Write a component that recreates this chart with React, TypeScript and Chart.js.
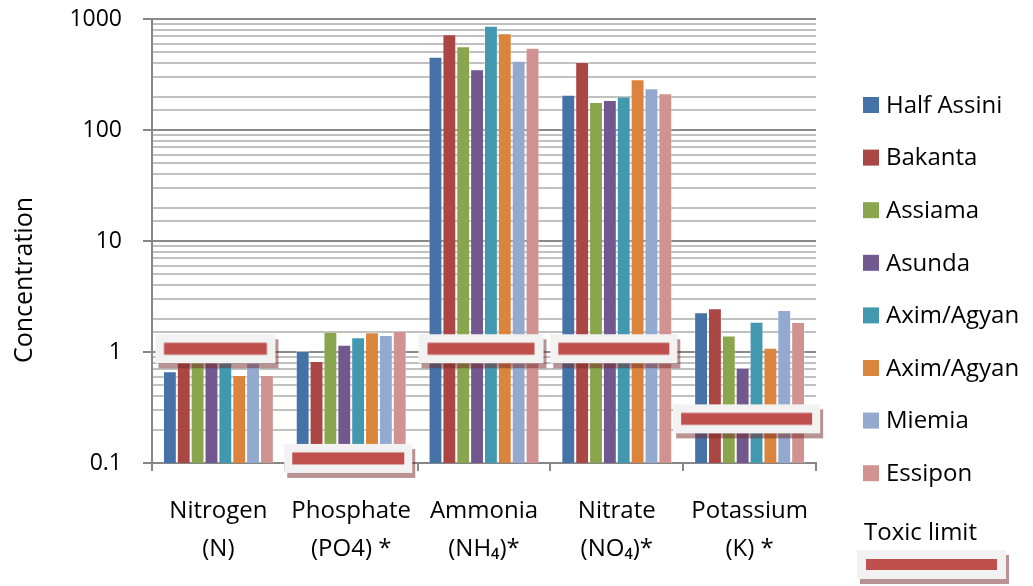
import React, { useEffect, useRef } from "react";
import { Chart, registerables } from "chart.js";
Chart.register(...registerables);

const categories: string[][] = [
  ["Nitrogen", "(N)"],
  ["Phosphate", "(PO4) *"],
  ["Ammonia", "(NH₄)*"],
  ["Nitrate", "(NO₄)*"],
  ["Potassium", "(K) *"],
];
const seriesNames = ["Half Assini", "Bakanta", "Assiama", "Asunda", "Axim/Agyan", "Axim/Agyan", "Miemia", "Essipon"];
const halfAssini = [0.67, 1.02, 457, 208, 2.28];
const bakanta = [0.85, 0.83, 728, 410, 2.48];
const assiama = [0.85, 1.52, 568, 179, 1.41];
const asunda = [0.85, 1.16, 352, 186, 0.72];
const aximAgyan1 = [0.85, 1.36, 870, 200, 1.87];
const aximAgyan2 = [0.62, 1.51, 743, 286, 1.09];
const miemia = [0.85, 1.42, 421, 238, 2.39];
const essipon = [0.62, 1.55, 551, 214, 1.86];
const toxicLimit = [1.07, 0.11, 1.07, 1.07, 0.25];
const toxicLabel = "Toxic limit";
const yTitle = "Concentration";
const seriesValues = [halfAssini, bakanta, assiama, asunda, aximAgyan1, aximAgyan2, miemia, essipon];
const seriesColors = ["#4572A7", "#AA4643", "#89A54E", "#71588F", "#4198AF", "#DB843D", "#93A9CF", "#D19392"];
const yMin = 0.1;
const yMax = 1000;

// marker box styling (box width, inner bar width) per category marker
const markerBoxW = [120, 128, 125, 127, 147];
const markerBarW = [103, 112, 107, 111, 131];

const FONT = "'Open Sans', 'Noto Sans', sans-serif";

function drawMarker(g: CanvasRenderingContext2D, x: number, y: number, w: number, h: number, rw: number, rh: number) {
  g.fillStyle = "rgba(115,40,40,0.5)";
  g.fillRect(x + 3, y + 5, w, h);
  g.fillStyle = "#f2f2f2";
  g.fillRect(x, y, w, h);
  g.fillStyle = "#C0504D";
  g.fillRect(x + (w - rw) / 2, y + (h - rh) / 2, rw, rh);
}

function makeMarkerCanvas(w: number, rw: number): HTMLCanvasElement {
  const h = 29, rh = 12;
  const pad = 10, shiftX = -3;
  const c = document.createElement("canvas");
  c.width = w + 2 * pad;
  c.height = h + 2 * pad;
  const g = c.getContext("2d")!;
  drawMarker(g, pad + shiftX, pad, w, h, rw, rh);
  return c;
}

const legendPlugin = {
  id: "customLegend",
  afterDraw(chart: any) {
    const ctx = chart.ctx as CanvasRenderingContext2D;
    ctx.save();
    ctx.font = `24px ${FONT}`;
    ctx.textBaseline = "middle";
    ctx.textAlign = "left";
    const startY = 105;
    const step = 52.6;
    for (let i = 0; i < seriesNames.length; i++) {
      const y = startY + i * step;
      ctx.fillStyle = seriesColors[i];
      ctx.fillRect(863, y - 8, 16, 16);
      ctx.fillStyle = "#000";
      ctx.fillText(seriesNames[i], 886, y + 1);
    }
    ctx.fillStyle = "#000";
    ctx.fillText(toxicLabel, 864, 533);
    drawMarker(ctx, 857, 550, 149, 29, 131, 11);
    // y axis title
    ctx.save();
    ctx.translate(25, 280);
    ctx.rotate(-Math.PI / 2);
    ctx.textAlign = "center";
    ctx.font = `25px ${FONT}`;
    ctx.fillStyle = "#000";
    ctx.fillText(yTitle, 0, 0);
    ctx.restore();
    ctx.restore();
  },
};

const isDecade = (v: number) => {
  const l = Math.log10(v);
  return Math.abs(l - Math.round(l)) < 1e-6;
};

export default function App() {
  const ref = useRef<HTMLCanvasElement>(null);
  useEffect(() => {
    if (!ref.current) return;
    const markers = markerBoxW.map((w, i) => makeMarkerCanvas(w, markerBarW[i]));
    const datasets: any[] = seriesValues.map((vals, i) => ({
      type: "bar",
      label: seriesNames[i],
      data: vals,
      backgroundColor: seriesColors[i],
      borderColor: "rgba(255,255,255,0.35)",
      borderWidth: 1,
      categoryPercentage: 0.835,
      barPercentage: 1,
      order: 2,
    }));
    datasets.push({
      type: "line",
      label: toxicLabel,
      data: toxicLimit,
      showLine: false,
      pointStyle: markers,
      pointRadius: 5,
      pointHoverRadius: 5,
      clip: false,
      order: 0,
    });
    const chart = new Chart(ref.current, {
      type: "bar",
      data: { labels: categories, datasets },
      options: {
        animation: false,
        responsive: true,
        maintainAspectRatio: false,
        layout: { padding: { left: 0, top: 19, right: 217, bottom: 0 } },
        plugins: { legend: { display: false }, tooltip: { enabled: false } },
        scales: {
          x: {
            type: "category",
            offset: true,
            grid: {
              offset: true,
              drawOnChartArea: false,
              drawTicks: true,
              tickLength: 8,
              color: "#868686",
              lineWidth: 2,
            },
            border: { display: true, color: "#868686", width: 2 },
            ticks: {
              color: "#000",
              font: { family: FONT, size: 24, lineHeight: 1.55 },
              padding: 22,
              maxRotation: 0,
              autoSkip: false,
            },
            afterFit(scale: any) {
              scale.height = 586 - 463;
              scale.paddingLeft = 0;
              scale.paddingRight = 0;
            },
          },
          y: {
            type: "logarithmic",
            min: yMin,
            max: yMax,
            grid: {
              color: (c: any) => (isDecade(c.tick ? c.tick.value : 1) ? "#8a8a8a" : "#c0c0c0"),
              tickColor: (c: any) => (isDecade(c.tick ? c.tick.value : 1) ? "#868686" : "rgba(0,0,0,0)"),
              lineWidth: 2,
              tickLength: 9,
            },
            border: { display: true, color: "#868686", width: 2 },
            ticks: {
              color: "#000",
              font: { family: FONT, size: 23 },
              padding: 21,
              autoSkip: false,
              callback: (value: any) => {
                const v = Number(value);
                if (isDecade(v)) return v < 1 ? v.toFixed(1) : String(Math.round(v));
                return "";
              },
            },
            title: { display: false },
            afterFit(scale: any) {
              scale.width = 152;
              scale.paddingTop = 0;
              scale.paddingBottom = 0;
            },
          },
        },
      },
      plugins: [legendPlugin],
    } as any);
    return () => chart.destroy();
  }, []);
  return (
    <div style={{ position: "fixed", left: 0, top: 0, width: 1033, height: 586, background: "#fff" }}>
      <canvas ref={ref} />
    </div>
  );
}
